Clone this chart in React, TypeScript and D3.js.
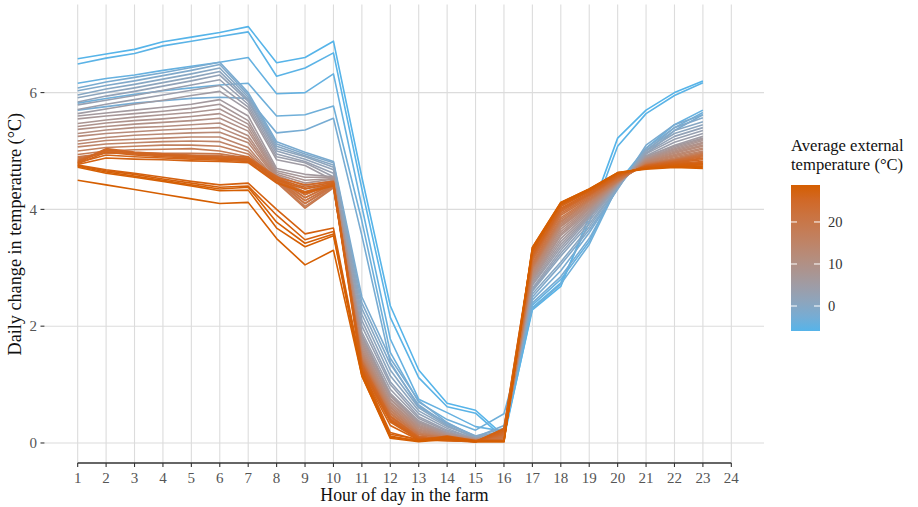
import React from "react";
import * as d3 from "d3";

const hours = [1, 2, 3, 4, 5, 6, 7, 8, 9, 10, 11, 12, 13, 14, 15, 16, 17, 18, 19, 20, 21, 22, 23];
const xTicks = [1, 2, 3, 4, 5, 6, 7, 8, 9, 10, 11, 12, 13, 14, 15, 16, 17, 18, 19, 20, 21, 22, 23, 24];
const yTicks = [0, 2, 4, 6];
const legendTicks = [0, 10, 20];

// average external temperature of each line (°C)
const temps = [
  -5.95, -5.5, -4.5, -3.5, -2.5,
  -2, -1, 0, 1, 2, 3, 4, 5,
  6, 7, 8, 9, 10, 11, 12, 13, 14, 15, 16.5, 18,
  19.5, 21, 22, 23, 24,
  25, 26, 26.5, 27, 27.5,
  27.8, 28, 28.3, 28.6, 28.8,
];

// one row per hour (1..23), one value per line (same order as temps)
const valuesByHour = [
  [6.58, 6.49, 6.16, 5.82, 5.70, 6.08, 6.03, 5.96, 5.91, 5.84, 5.79, 5.71, 5.64, 5.60, 5.55, 5.47, 5.42, 5.37, 5.30, 5.25, 5.17, 5.12, 5.07, 5.00, 4.94, 4.90, 4.88, 4.86, 4.84, 4.82, 4.82, 4.80, 4.78, 4.80, 4.77, 4.76, 4.75, 4.74, 4.72, 4.50],
  [6.66, 6.59, 6.24, 5.90, 5.76, 6.18, 6.12, 6.06, 6.00, 5.94, 5.87, 5.80, 5.72, 5.65, 5.60, 5.53, 5.48, 5.42, 5.36, 5.30, 5.23, 5.18, 5.12, 5.06, 5.00, 4.96, 4.97, 4.98, 5.00, 5.01, 5.04, 5.02, 4.98, 4.93, 4.88, 4.68, 4.66, 4.64, 4.62, 4.42],
  [6.74, 6.67, 6.30, 5.97, 5.82, 6.26, 6.20, 6.14, 6.08, 6.02, 5.95, 5.88, 5.80, 5.70, 5.64, 5.58, 5.52, 5.46, 5.40, 5.33, 5.27, 5.20, 5.14, 5.08, 5.02, 4.97, 4.96, 4.95, 4.95, 4.96, 4.98, 4.96, 4.93, 4.90, 4.86, 4.62, 4.60, 4.57, 4.55, 4.34],
  [6.87, 6.80, 6.38, 6.03, 5.86, 6.34, 6.29, 6.23, 6.17, 6.11, 6.04, 5.96, 5.87, 5.75, 5.68, 5.62, 5.55, 5.49, 5.42, 5.36, 5.29, 5.22, 5.16, 5.10, 5.03, 4.96, 4.95, 4.93, 4.92, 4.93, 4.95, 4.93, 4.90, 4.88, 4.85, 4.55, 4.52, 4.50, 4.48, 4.26],
  [6.95, 6.88, 6.45, 6.08, 5.90, 6.43, 6.38, 6.32, 6.26, 6.20, 6.13, 6.04, 5.95, 5.80, 5.73, 5.66, 5.59, 5.52, 5.45, 5.38, 5.31, 5.24, 5.17, 5.10, 5.04, 4.96, 4.93, 4.91, 4.90, 4.90, 4.92, 4.90, 4.88, 4.86, 4.83, 4.48, 4.45, 4.42, 4.40, 4.18],
  [7.03, 6.96, 6.52, 6.13, 5.92, 6.52, 6.48, 6.42, 6.36, 6.30, 6.22, 6.12, 6.02, 5.88, 5.80, 5.72, 5.64, 5.56, 5.48, 5.40, 5.32, 5.24, 5.16, 5.08, 5.00, 4.95, 4.92, 4.90, 4.88, 4.87, 4.90, 4.88, 4.86, 4.84, 4.82, 4.42, 4.38, 4.35, 4.32, 4.10],
  [7.13, 7.04, 6.60, 6.16, 5.90, 6.00, 5.96, 5.92, 5.88, 5.85, 5.80, 5.75, 5.70, 5.60, 5.52, 5.46, 5.40, 5.34, 5.26, 5.20, 5.14, 5.06, 5.00, 4.95, 4.90, 4.88, 4.86, 4.85, 4.84, 4.83, 4.90, 4.87, 4.85, 4.82, 4.80, 4.45, 4.40, 4.38, 4.33, 4.12],
  [6.51, 6.28, 5.98, 5.60, 5.31, 5.16, 5.12, 5.08, 5.04, 5.00, 4.95, 4.90, 4.85, 4.70, 4.66, 4.63, 4.60, 4.58, 4.56, 4.54, 4.52, 4.50, 4.49, 4.48, 4.47, 4.46, 4.50, 4.52, 4.55, 4.57, 4.55, 4.52, 4.50, 4.47, 4.45, 4.00, 3.90, 3.78, 3.68, 3.50],
  [6.60, 6.42, 6.00, 5.62, 5.36, 4.98, 4.95, 4.92, 4.90, 4.86, 4.82, 4.80, 4.75, 4.60, 4.55, 4.50, 4.45, 4.40, 4.35, 4.30, 4.25, 4.20, 4.15, 4.10, 4.05, 4.02, 4.10, 4.15, 4.20, 4.25, 4.42, 4.38, 4.35, 4.30, 4.28, 3.58, 3.48, 3.42, 3.36, 3.05],
  [6.88, 6.68, 6.32, 5.77, 5.56, 4.82, 4.80, 4.76, 4.72, 4.68, 4.62, 4.56, 4.50, 4.56, 4.55, 4.53, 4.52, 4.50, 4.48, 4.46, 4.45, 4.43, 4.41, 4.40, 4.38, 4.37, 4.40, 4.42, 4.44, 4.45, 4.48, 4.46, 4.44, 4.42, 4.40, 3.68, 3.62, 3.58, 3.55, 3.30],
  [4.55, 4.35, 4.05, 3.80, 3.55, 2.50, 2.40, 2.30, 2.20, 2.10, 2.00, 1.90, 1.85, 1.82, 1.78, 1.74, 1.70, 1.66, 1.62, 1.58, 1.55, 1.52, 1.50, 1.47, 1.44, 1.42, 1.40, 1.38, 1.35, 1.32, 1.35, 1.30, 1.28, 1.25, 1.22, 1.25, 1.22, 1.18, 1.15, 1.15],
  [2.35, 2.15, 1.78, 1.55, 1.38, 1.45, 1.35, 1.25, 1.15, 1.05, 1.00, 0.92, 0.85, 0.82, 0.80, 0.76, 0.74, 0.70, 0.68, 0.65, 0.62, 0.60, 0.57, 0.55, 0.52, 0.50, 0.47, 0.45, 0.42, 0.40, 0.45, 0.40, 0.38, 0.36, 0.30, 0.18, 0.15, 0.12, 0.10, 0.08],
  [1.25, 1.12, 0.75, 0.70, 0.62, 0.72, 0.65, 0.60, 0.55, 0.50, 0.45, 0.42, 0.38, 0.36, 0.34, 0.32, 0.30, 0.28, 0.26, 0.24, 0.22, 0.20, 0.18, 0.17, 0.15, 0.14, 0.12, 0.10, 0.10, 0.08, 0.10, 0.08, 0.08, 0.06, 0.05, 0.05, 0.06, 0.03, 0.04, 0.02],
  [0.68, 0.62, 0.52, 0.40, 0.34, 0.35, 0.32, 0.30, 0.28, 0.25, 0.22, 0.20, 0.18, 0.17, 0.16, 0.15, 0.14, 0.13, 0.12, 0.12, 0.11, 0.10, 0.10, 0.09, 0.09, 0.08, 0.07, 0.06, 0.06, 0.05, 0.06, 0.05, 0.05, 0.04, 0.04, 0.12, 0.10, 0.08, 0.10, 0.06],
  [0.56, 0.51, 0.28, 0.22, 0.12, 0.10, 0.12, 0.08, 0.10, 0.06, 0.08, 0.05, 0.07, 0.06, 0.05, 0.07, 0.05, 0.06, 0.04, 0.05, 0.04, 0.05, 0.04, 0.04, 0.03, 0.03, 0.03, 0.02, 0.03, 0.02, 0.02, 0.02, 0.03, 0.02, 0.02, 0.04, 0.03, 0.02, 0.02, 0.03],
  [0.12, 0.08, 0.20, 0.50, 0.18, 0.30, 0.25, 0.22, 0.20, 0.18, 0.15, 0.15, 0.12, 0.12, 0.14, 0.10, 0.12, 0.10, 0.11, 0.09, 0.10, 0.08, 0.09, 0.08, 0.07, 0.08, 0.10, 0.12, 0.14, 0.16, 0.18, 0.20, 0.22, 0.24, 0.25, 0.05, 0.04, 0.03, 0.02, 0.02],
  [2.28, 2.32, 2.36, 2.30, 2.40, 2.45, 2.50, 2.55, 2.60, 2.62, 2.65, 2.70, 2.72, 2.75, 2.78, 2.80, 2.83, 2.86, 2.88, 2.90, 2.93, 2.96, 2.98, 3.00, 3.02, 3.05, 3.08, 3.12, 3.15, 3.18, 3.20, 3.22, 3.25, 3.28, 3.30, 3.28, 3.30, 3.32, 3.35, 3.35],
  [2.68, 2.74, 2.80, 2.72, 2.85, 2.95, 3.05, 3.10, 3.20, 3.25, 3.30, 3.35, 3.40, 3.45, 3.50, 3.55, 3.58, 3.62, 3.66, 3.70, 3.72, 3.75, 3.78, 3.80, 3.83, 3.86, 3.90, 3.93, 3.96, 3.98, 4.00, 4.02, 4.05, 4.07, 4.10, 4.08, 4.10, 4.10, 4.12, 4.12],
  [3.88, 3.78, 3.45, 3.40, 3.50, 3.60, 3.65, 3.70, 3.75, 3.80, 3.85, 3.88, 3.90, 3.92, 3.95, 3.97, 4.00, 4.02, 4.04, 4.06, 4.08, 4.10, 4.12, 4.14, 4.16, 4.18, 4.20, 4.22, 4.24, 4.25, 4.26, 4.28, 4.30, 4.31, 4.33, 4.32, 4.33, 4.34, 4.35, 4.35],
  [5.22, 5.08, 4.45, 4.40, 4.38, 4.35, 4.35, 4.38, 4.38, 4.40, 4.40, 4.42, 4.42, 4.43, 4.44, 4.44, 4.45, 4.45, 4.46, 4.46, 4.47, 4.47, 4.48, 4.48, 4.49, 4.50, 4.52, 4.53, 4.54, 4.55, 4.56, 4.57, 4.58, 4.60, 4.60, 4.60, 4.62, 4.62, 4.63, 4.63],
  [5.70, 5.64, 5.05, 5.00, 4.95, 5.10, 5.05, 5.02, 5.00, 4.97, 4.95, 4.92, 4.90, 4.90, 4.88, 4.87, 4.86, 4.85, 4.84, 4.83, 4.82, 4.81, 4.80, 4.79, 4.78, 4.77, 4.76, 4.76, 4.75, 4.75, 4.74, 4.74, 4.73, 4.72, 4.72, 4.72, 4.71, 4.70, 4.70, 4.69],
  [6.00, 5.95, 5.45, 5.40, 5.35, 5.45, 5.40, 5.35, 5.30, 5.25, 5.20, 5.15, 5.10, 5.08, 5.06, 5.04, 5.02, 5.00, 4.98, 4.96, 4.94, 4.92, 4.90, 4.88, 4.86, 4.85, 4.84, 4.83, 4.83, 4.82, 4.81, 4.80, 4.79, 4.78, 4.77, 4.76, 4.75, 4.74, 4.73, 4.72],
  [6.20, 6.17, 5.70, 5.66, 5.62, 5.62, 5.57, 5.50, 5.45, 5.40, 5.35, 5.30, 5.25, 5.22, 5.20, 5.18, 5.15, 5.13, 5.10, 5.08, 5.05, 5.03, 5.00, 4.98, 4.96, 4.95, 4.93, 4.92, 4.90, 4.88, 4.87, 4.85, 4.82, 4.80, 4.78, 4.78, 4.76, 4.74, 4.72, 4.70],
];

const FONT = "'Liberation Serif', 'Times New Roman', serif";

export default function App() {
  const W = 918;
  const H = 507;

  const x = d3.scaleLinear().domain([-0.15, 25.15]).range([45, 764]);
  const y = d3.scaleLinear().domain([-0.36, 7.51]).range([464, 4.4]);

  const [tMin, tMax] = d3.extent(temps) as [number, number];
  const color = d3
    .scaleLinear<string>()
    .domain([tMin, tMax])
    .range(["#56B4E9", "#D55E00"])
    .interpolate(d3.interpolateLab);

  const series = temps
    .map((t, i) => ({ t, values: valuesByHour.map((row) => row[i]) }))
    .sort((a, b) => a.t - b.t);

  const line = d3
    .line<number>()
    .x((_, i) => x(hours[i]))
    .y((v) => y(v));

  const panelTop = y.range()[1];
  const panelBottom = y.range()[0];
  const axisY = 463;

  // legend
  const barX = 791;
  const barW = 29;
  const lScale = d3.scaleLinear().domain([tMin, tMax]).range([331, 185]);
  const stops = d3.range(0, 1.0001, 0.1);

  return (
    <svg
      width={W}
      height={H}
      style={{ position: "absolute", left: 0, top: 0, background: "#fff" }}
      fontFamily={FONT}
    >
      <defs>
        <linearGradient id="tempGrad" x1="0" y1="1" x2="0" y2="0">
          {stops.map((s) => (
            <stop key={s} offset={s} stopColor={color(tMin + s * (tMax - tMin))} />
          ))}
        </linearGradient>
      </defs>
      <rect x={0} y={0} width={W} height={H} fill="#fff" />

      {/* gridlines */}
      {yTicks.map((t) => (
        <line key={"gy" + t} x1={x.range()[0]} x2={x.range()[1]} y1={y(t)} y2={y(t)} stroke="#dcdcdc" strokeWidth={1.1} />
      ))}
      {xTicks.map((t) => (
        <line key={"gx" + t} x1={x(t)} x2={x(t)} y1={panelTop} y2={axisY} stroke="#dcdcdc" strokeWidth={1.1} />
      ))}

      {/* lines */}
      {series.map((s, i) => (
        <path key={i} d={line(s.values) || ""} fill="none" stroke={color(s.t)} strokeWidth={1.6} strokeLinejoin="round" />
      ))}

      {/* x axis */}
      <line x1={x(1)} x2={x(24)} y1={axisY} y2={axisY} stroke="#333" strokeWidth={1.3} />
      {xTicks.map((t) => (
        <g key={"xt" + t}>
          <line x1={x(t)} x2={x(t)} y1={axisY} y2={axisY + 4} stroke="#333" strokeWidth={1.1} />
          <text x={x(t)} y={axisY + 20} textAnchor="middle" fontSize={15} fill="#555">
            {t}
          </text>
        </g>
      ))}

      {/* y axis */}
      {yTicks.map((t) => (
        <g key={"yt" + t}>
          <line x1={40.5} x2={44.5} y1={y(t)} y2={y(t)} stroke="#333" strokeWidth={1.1} />
          <text x={37} y={y(t)} dy="0.35em" textAnchor="end" fontSize={15} fill="#555">
            {t}
          </text>
        </g>
      ))}

      {/* axis titles */}
      <text x={(x.range()[0] + x.range()[1]) / 2} y={501} textAnchor="middle" fontSize={17.8} fill="#111">
        Hour of day in the farm
      </text>
      <text
        transform={`translate(21, ${(panelTop + panelBottom) / 2}) rotate(-90)`}
        textAnchor="middle"
        fontSize={18.2}
        fill="#111"
      >
        Daily change in temperature (°C)
      </text>

      {/* legend */}
      <text x={barX} y={151} fontSize={16.6} fill="#111">
        Average external
      </text>
      <text x={barX} y={170} fontSize={16.6} fill="#111">
        temperature (°C)
      </text>
      <rect x={barX} y={lScale(tMax)} width={barW} height={lScale(tMin) - lScale(tMax)} fill="url(#tempGrad)" />
      {legendTicks.map((t) => (
        <g key={"lt" + t}>
          <line x1={barX} x2={barX + 6} y1={lScale(t)} y2={lScale(t)} stroke="#fff" strokeWidth={1} />
          <line x1={barX + barW - 6} x2={barX + barW} y1={lScale(t)} y2={lScale(t)} stroke="#fff" strokeWidth={1} />
          <text x={barX + barW + 8} y={lScale(t)} dy="0.35em" fontSize={14.5} fill="#333">
            {t}
          </text>
        </g>
      ))}
    </svg>
  );
}
